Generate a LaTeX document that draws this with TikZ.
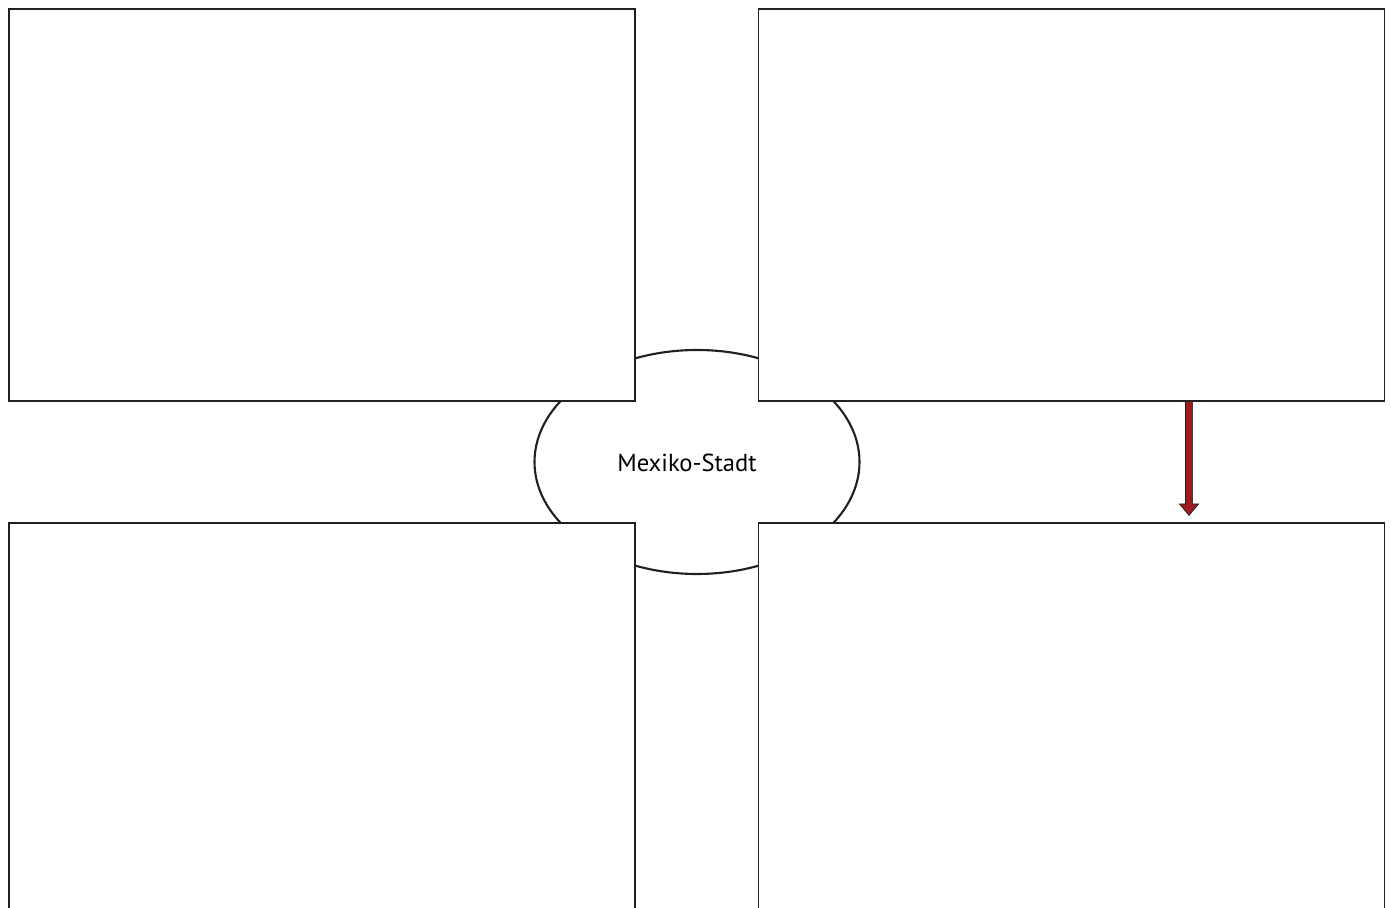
\documentclass[tikz,border=0pt]{standalone}
\usepackage{fontspec}
\setmainfont{PT Sans}
\usepackage{tikz}
\usetikzlibrary{shapes.geometric,shapes.arrows}
\definecolor{MXRed}{HTML}{9B1B1E}
\definecolor{MXLine}{HTML}{231F20}

\begin{document}
\begin{tikzpicture}[x=1cm,y=1cm,
  panel/.style={draw=MXLine,fill=white,line width=0.6pt,minimum width=12.52cm,minimum height=7.84cm,inner sep=0pt},
  city/.style={ellipse,draw=MXLine,line width=1.2pt,minimum width=6.50cm,minimum height=4.48cm,inner sep=0pt}]
\path[use as bounding box] (0,0) rectangle (27.82,18.16);
\clip (0,0) rectangle (27.82,18.16);
\node[city] (mx) at (13.94,8.92) {};
\node[font=\fontsize{14}{16}\selectfont] (mxlabel) at (13.74,8.90) {Mexiko-Stadt};
\node[panel] (tl) at (6.44,14.06) {};
\node[panel] (tr) at (21.43,14.06) {};
\node[panel] (bl) at (6.44,3.78) {};
\node[panel] (br) at (21.43,3.78) {};
\coordinate (arrtop) at (23.78,10.14);
\node[single arrow,rotate=-90,anchor=tail,draw=MXLine,fill=MXRed,line width=0.4pt,
  minimum height=2.28cm,minimum width=0.36cm,inner sep=0.065cm,single arrow head extend=0.12cm,
  single arrow tip angle=80] (link) at (arrtop) {};
\end{tikzpicture}
\end{document}
